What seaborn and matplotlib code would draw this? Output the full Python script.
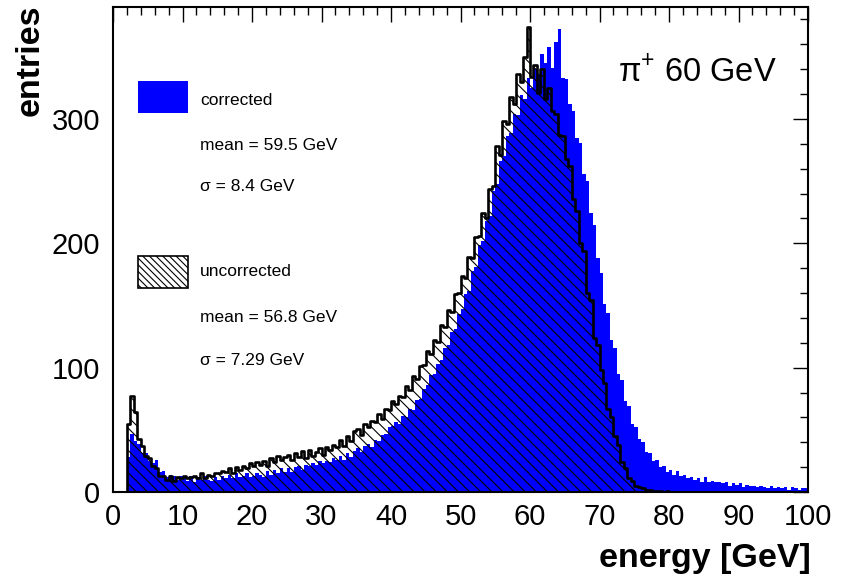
import numpy as np
import pandas as pd
import matplotlib
matplotlib.use("Agg")
import matplotlib.pyplot as plt
from matplotlib.patches import Rectangle
import seaborn as sns

# ---- data: 0.5 GeV bins from 0 to 100 GeV ----
bin_lo, bin_hi, bin_w = 0.0, 100.0, 0.5

corrected = [
    0, 0, 0, 0, 28, 47, 41, 39, 31, 31,
    25, 23, 26, 16, 17, 12, 14, 13, 10, 13,
    12, 9, 13, 8, 12, 10, 13, 10, 9, 12,
    10, 13, 11, 14, 11, 15, 12, 13, 15, 12,
    13, 15, 14, 12, 17, 14, 18, 15, 19, 16,
    19, 16, 20, 21, 18, 22, 21, 23, 22, 25,
    23, 25, 24, 27, 26, 29, 26, 31, 28, 33,
    35, 32, 37, 39, 36, 42, 41, 46, 47, 52,
    53, 56, 55, 61, 60, 67, 66, 74, 75, 83,
    86, 94, 95, 103, 106, 116, 118, 129, 131, 143,
    147, 159, 162, 178, 181, 199, 202, 218, 222, 242,
    248, 266, 270, 286, 289, 304, 303, 319, 316, 333,
    325, 340, 336, 352, 345, 358, 341, 362, 372, 333,
    332, 312, 306, 285, 281, 256, 250, 224, 215, 188,
    176, 151, 144, 122, 116, 95, 90, 73, 69, 55,
    52, 43, 40, 32, 31, 25, 26, 20, 21, 16,
    18, 14, 17, 13, 14, 11, 12, 10, 11, 8,
    12, 8, 9, 8, 8, 7, 8, 5, 7, 6,
    7, 4, 6, 5, 5, 4, 5, 4, 3, 5,
    3, 4, 3, 4, 2, 4, 3, 2, 3, 3,
]

uncorrected = [
    0, 0, 0, 0, 55, 77, 64, 43, 37, 29,
    27, 21, 19, 13, 13, 10, 13, 9, 12, 11,
    13, 11, 12, 13, 11, 15, 11, 14, 13, 15,
    15, 17, 16, 19, 15, 20, 18, 21, 19, 23,
    21, 24, 22, 25, 21, 27, 24, 29, 26, 28,
    30, 26, 31, 28, 33, 27, 34, 29, 32, 35,
    30, 36, 34, 38, 36, 42, 37, 45, 41, 49,
    51, 46, 55, 52, 57, 56, 63, 59, 67, 66,
    73, 71, 77, 76, 85, 82, 93, 91, 101, 102,
    113, 111, 122, 121, 134, 133, 146, 145, 159, 160,
    174, 172, 189, 188, 205, 206, 224, 220, 244, 246,
    278, 271, 298, 296, 318, 312, 336, 330, 350, 374,
    334, 343, 321, 340, 316, 325, 306, 304, 287, 286,
    268, 262, 236, 226, 200, 194, 160, 154, 124, 118,
    98, 88, 67, 60, 45, 38, 24, 19, 11, 9,
    5, 4, 3, 2, 2, 1, 1, 1, 0, 1,
    0, 0, 0, 0, 0, 0, 0, 0, 0, 0,
    0, 0, 0, 0, 0, 0, 0, 0, 0, 0,
    0, 0, 0, 0, 0, 0, 0, 0, 0, 0,
    0, 0, 0, 0, 0, 0, 0, 0, 0, 0,
]

x_ticks = [0, 10, 20, 30, 40, 50, 60, 70, 80, 90, 100]
y_ticks = [0, 100, 200, 300]

legend_entries = [
    ("corrected", "mean = 59.5 GeV", "σ = 8.4 GeV"),
    ("uncorrected", "mean = 56.8 GeV", "σ = 7.29 GeV"),
]

# ---- style ----
sns.set_style("white")
plt.rcParams["font.family"] = ["Liberation Sans", "DejaVu Sans"]
plt.rcParams["mathtext.fontset"] = "custom"
plt.rcParams["mathtext.rm"] = "Liberation Sans"
plt.rcParams["hatch.color"] = "black"
plt.rcParams["hatch.linewidth"] = 0.8
plt.rcParams["text.color"] = "black"
plt.rcParams["axes.labelcolor"] = "black"
plt.rcParams["xtick.color"] = "black"
plt.rcParams["ytick.color"] = "black"

n_bins = len(corrected)
centers = bin_lo + bin_w * (np.arange(n_bins) + 0.5)
df = pd.DataFrame({"energy": centers, "corrected": corrected,
                   "uncorrected": uncorrected})

fig = plt.figure(figsize=(8.51, 5.82), dpi=100)
ax = fig.add_axes([113 / 851, 1 - 492 / 582, 695 / 851, 485 / 582])

BLUE = "#0000ff"
common = dict(data=df, x="energy", binwidth=bin_w, binrange=(bin_lo, bin_hi),
              element="step", ax=ax)
sns.histplot(weights="corrected", fill=True, color=BLUE, alpha=1,
             linewidth=0, **common)
sns.histplot(weights="uncorrected", fill=True, color="black", alpha=0,
             hatch="\\\\\\", linewidth=0, **common)
sns.histplot(weights="uncorrected", fill=False, color="black",
             linewidth=1.9, **common)

ax.set_xlim(0, 100)
ax.set_ylim(0, 390)
ax.set_xticks(x_ticks)
ax.set_yticks(y_ticks)
ax.set_xticks(np.arange(0, 101, 2), minor=True)
ax.set_yticks(np.arange(0, 391, 20), minor=True)
ax.tick_params(which="both", direction="in", top=True, right=True,
               width=1.0, color="black", labelcolor="black")
ax.tick_params(which="major", length=11, labelsize=21)
ax.tick_params(which="minor", length=5.5)
ax.tick_params(axis="x", which="major", pad=8)
ax.tick_params(axis="y", which="major", pad=9)
for s in ax.spines.values():
    s.set_linewidth(1.5)
    s.set_color("black")

ax.set_xlabel("energy [GeV]", fontsize=24.5, fontweight="bold", loc="right",
              color="black")
ax.xaxis.set_label_coords(1.004, -0.105)
ax.set_ylabel("entries", fontsize=24.5, fontweight="bold", loc="top",
              color="black")
ax.yaxis.set_label_coords(-0.097, 1.005)

# ---- legend-like annotations ----
tr = ax.transAxes
ax.add_patch(Rectangle((0.036, 0.781), 0.072, 0.066, transform=tr,
                       facecolor=BLUE, edgecolor="none", zorder=5))
ax.add_patch(Rectangle((0.036, 0.421), 0.072, 0.066, transform=tr,
                       facecolor="white", edgecolor="black",
                       hatch="\\\\\\\\\\", linewidth=1.2, zorder=5))
ys = [(0.808, 0.715, 0.629), (0.454, 0.359, 0.272)]
for (lab, mean, sig), (y1, y2, y3) in zip(legend_entries, ys):
    for txt, yy in ((lab, y1), (mean, y2), (sig, y3)):
        ax.text(0.125, yy, txt, transform=tr, fontsize=12.5, va="center",
                ha="left", color="black")

ax.text(0.727, 0.866, "π$^{+}$ 60 GeV", transform=tr, fontsize=23.5,
        va="center", ha="left", color="black")

fig.savefig("out.png", dpi=100)
